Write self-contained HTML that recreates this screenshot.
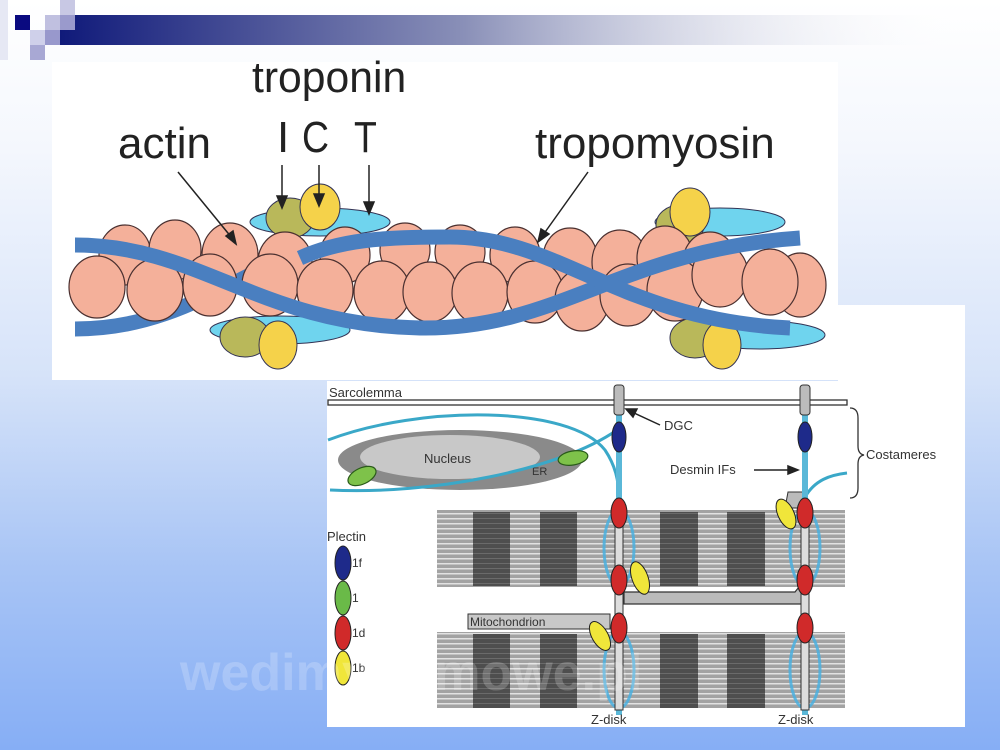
<!DOCTYPE html>
<html><head><meta charset="utf-8"><style>
html,body{margin:0;padding:0;}
body{width:1000px;height:750px;overflow:hidden;background:linear-gradient(to bottom,#ffffff 0%,#f4f7fd 20%,#d6e3f9 50%,#a9c5f5 75%,#86aef5 100%);position:relative;font-family:"Liberation Sans",sans-serif;}
</style></head><body>
<svg width="1000" height="750" viewBox="0 0 1000 750" style="position:absolute;left:0;top:0">
<defs>
<linearGradient id="bar" x1="0" x2="1"><stop offset="0" stop-color="#101a7a"/><stop offset="0.45" stop-color="#8a90b8"/><stop offset="1" stop-color="#ffffff" stop-opacity="0"/></linearGradient>
<pattern id="str" width="10" height="5" patternUnits="userSpaceOnUse"><rect width="10" height="5" fill="#a3a3a3"/><rect y="3" width="10" height="1.5" fill="#e2e2e2"/></pattern>
<pattern id="strd" width="10" height="5" patternUnits="userSpaceOnUse"><rect width="10" height="5" fill="#4e4e4e"/><rect y="3" width="10" height="1" fill="#6a6a6a"/></pattern>
</defs>
<rect x="60" y="15" width="900" height="30" fill="url(#bar)"/>
<rect x="15" y="15" width="15" height="15" fill="#0a0a80"/>
<rect x="60" y="0" width="15" height="15" fill="#c8c8e4"/>
<rect x="45" y="15" width="15" height="15" fill="#c0c0e0"/>
<rect x="60" y="15" width="15" height="15" fill="#9a9acc"/>
<rect x="30" y="30" width="15" height="15" fill="#cfd0ea"/>
<rect x="45" y="30" width="15" height="15" fill="#9898cc"/>
<rect x="30" y="45" width="15" height="15" fill="#a8a8d4"/>
<rect x="0" y="0" width="8" height="60" fill="#e6e8f4"/>

<rect x="52" y="62" width="786" height="318" fill="#fff"/>
<rect x="838" y="305" width="127" height="76" fill="#fff"/>
<g font-family="Liberation Sans, sans-serif" fill="#222" font-size="44">
<text transform="translate(252,92) scale(0.97,1)">troponin</text>
<text transform="translate(118,158) scale(1,1)">actin</text>
<text x="277" y="152">I</text>
<text transform="translate(302,152) scale(0.85,1)">C</text>
<text transform="translate(354,152) scale(0.85,1)">T</text>
<text transform="translate(535,158) scale(1,1)">tropomyosin</text>
</g>
<g stroke="#335" stroke-width="1">
<ellipse cx="320" cy="222" rx="70" ry="14" fill="#6fd4ee"/>
<ellipse cx="720" cy="222" rx="65" ry="14" fill="#6fd4ee"/>
<ellipse cx="280" cy="330" rx="70" ry="14" fill="#6fd4ee"/>
<ellipse cx="760" cy="335" rx="65" ry="14" fill="#6fd4ee"/>
<ellipse cx="290" cy="218" rx="24" ry="20" fill="#b9b85a"/>
<ellipse cx="320" cy="207" rx="20" ry="23" fill="#f5d24a"/>
<ellipse cx="680" cy="225" rx="24" ry="20" fill="#b9b85a"/>
<ellipse cx="690" cy="212" rx="20" ry="24" fill="#f5d24a"/>
<ellipse cx="245" cy="337" rx="25" ry="20" fill="#b9b85a"/>
<ellipse cx="278" cy="345" rx="19" ry="24" fill="#f5d24a"/>
<ellipse cx="695" cy="338" rx="25" ry="20" fill="#b9b85a"/>
<ellipse cx="722" cy="345" rx="19" ry="24" fill="#f5d24a"/>
</g>
<g fill="#f4b09a" stroke="#4a3030" stroke-width="1.2">
<ellipse cx="125" cy="255" rx="26" ry="30"/>
<ellipse cx="175" cy="250" rx="26" ry="30"/>
<ellipse cx="230" cy="255" rx="28" ry="32"/>
<ellipse cx="285" cy="262" rx="27" ry="30"/>
<ellipse cx="345" cy="255" rx="25" ry="28"/>
<ellipse cx="405" cy="250" rx="25" ry="27"/>
<ellipse cx="460" cy="252" rx="25" ry="27"/>
<ellipse cx="515" cy="255" rx="25" ry="28"/>
<ellipse cx="570" cy="258" rx="27" ry="30"/>
<ellipse cx="620" cy="262" rx="28" ry="32"/>
<ellipse cx="665" cy="258" rx="28" ry="32"/>
<ellipse cx="710" cy="262" rx="27" ry="30"/>
<ellipse cx="800" cy="285" rx="26" ry="32"/>
</g>
<path d="M75,329 C150,329 200,300 260,270" fill="none" stroke="#4a7fc0" stroke-width="15"/>
<g fill="#f4b09a" stroke="#4a3030" stroke-width="1.2">
<ellipse cx="97" cy="287" rx="28" ry="31"/>
<ellipse cx="155" cy="290" rx="28" ry="31"/>
<ellipse cx="210" cy="285" rx="27" ry="31"/>
<ellipse cx="270" cy="285" rx="28" ry="31"/>
<ellipse cx="325" cy="290" rx="28" ry="31"/>
<ellipse cx="382" cy="292" rx="28" ry="31"/>
<ellipse cx="430" cy="292" rx="27" ry="30"/>
<ellipse cx="480" cy="293" rx="28" ry="31"/>
<ellipse cx="535" cy="292" rx="28" ry="31"/>
<ellipse cx="582" cy="300" rx="27" ry="31"/>
<ellipse cx="628" cy="295" rx="28" ry="31"/>
<ellipse cx="675" cy="290" rx="28" ry="31"/>
<ellipse cx="720" cy="275" rx="28" ry="32"/>
<ellipse cx="770" cy="282" rx="28" ry="33"/>
</g>
<path d="M75,245 C200,245 260,325 420,328 C560,330 620,250 800,238" fill="none" stroke="#4a7fc0" stroke-width="15" stroke-linejoin="round"/>
<path d="M300,258 C340,240 380,237 450,237 C560,237 620,320 790,328" fill="none" stroke="#4a7fc0" stroke-width="15"/>
<g stroke="#222" stroke-width="1.5" fill="#222">
<line x1="178" y1="172" x2="232" y2="238"/><polygon points="236,244 226,236 233,231"/>
<line x1="282" y1="165" x2="282" y2="200"/><polygon points="282,208 277,196 287,196"/>
<line x1="319" y1="165" x2="319" y2="198"/><polygon points="319,206 314,194 324,194"/>
<line x1="369" y1="165" x2="369" y2="206"/><polygon points="369,214 364,202 374,202"/>
<line x1="588" y1="172" x2="543" y2="235"/><polygon points="538,242 541,229 549,234"/>
</g>

<rect x="327" y="381" width="638" height="346" fill="#fff"/>
<rect x="437" y="510" width="408" height="77" fill="url(#str)"/>
<rect x="437" y="632" width="408" height="76" fill="url(#str)"/>
<g fill="url(#strd)">
<rect x="473" y="512" width="37" height="74"/><rect x="540" y="512" width="37" height="74"/>
<rect x="660" y="512" width="38" height="74"/><rect x="727" y="512" width="38" height="74"/>
<rect x="473" y="634" width="37" height="74"/><rect x="540" y="634" width="37" height="74"/>
<rect x="660" y="634" width="38" height="74"/><rect x="727" y="634" width="38" height="74"/>
</g>
<rect x="328" y="400" width="519" height="5" fill="#fff" stroke="#333" stroke-width="1.3"/>
<text x="329" y="397" font-size="13" fill="#333">Sarcolemma</text>
<ellipse cx="460" cy="460" rx="122" ry="30" fill="#8a8a8a"/>
<ellipse cx="450" cy="457" rx="90" ry="22" fill="#c8c8c8"/>
<text x="424" y="463" font-size="13" fill="#333">Nucleus</text>
<text x="532" y="475" font-size="11" fill="#333">ER</text>
<g fill="none" stroke="#3aa8c8" stroke-width="3">
<path d="M328,440 C420,405 570,405 605,450 C615,465 619,480 619,500"/>
<path d="M330,490 C430,495 560,470 617,430"/>
<path d="M805,497 C815,480 830,475 847,473"/>
</g>
<ellipse cx="362" cy="476" rx="15" ry="8" fill="#7ec24a" stroke="#2a5a1a" stroke-width="1.2" transform="rotate(-25 362 476)"/>
<ellipse cx="573" cy="458" rx="15" ry="7" fill="#7ec24a" stroke="#2a5a1a" stroke-width="1.2" transform="rotate(-10 573 458)"/>
<g fill="none" stroke="#4ab0e0" stroke-width="3" opacity="0.85">
<ellipse cx="619" cy="548" rx="15" ry="38"/><ellipse cx="619" cy="670" rx="15" ry="38"/>
<ellipse cx="805" cy="548" rx="15" ry="38"/><ellipse cx="805" cy="670" rx="15" ry="38"/>
</g>
<path d="M624,592 L795,592 Q800,585 805,584 L808,604 L624,604 Z" fill="#bbb" stroke="#333" stroke-width="1.2"/>
<rect x="468" y="614" width="142" height="15" fill="#c8c8c8" stroke="#333" stroke-width="1"/>
<text x="470" y="626" font-size="12" fill="#333">Mitochondrion</text>
<path d="M788,492 L805,492 L805,508 L785,508 Z" fill="#bbb" stroke="#333" stroke-width="1"/>
<g>
<rect x="616" y="415" width="6" height="300" fill="#5ab8d8"/>
<rect x="802" y="415" width="6" height="300" fill="#5ab8d8"/>
<rect x="615" y="520" width="8" height="190" fill="#ddd" stroke="#333"/>
<rect x="801" y="520" width="8" height="190" fill="#ddd" stroke="#333"/>
<rect x="614" y="385" width="10" height="30" rx="3" fill="#bbb" stroke="#333"/>
<rect x="800" y="385" width="10" height="30" rx="3" fill="#bbb" stroke="#333"/>
</g>
<g stroke="#222" stroke-width="1">
<ellipse cx="619" cy="437" rx="7" ry="15" fill="#1e2a8a"/><ellipse cx="805" cy="437" rx="7" ry="15" fill="#1e2a8a"/>
<ellipse cx="619" cy="513" rx="8" ry="15" fill="#d02a2a"/><ellipse cx="805" cy="513" rx="8" ry="15" fill="#d02a2a"/>
<ellipse cx="619" cy="580" rx="8" ry="15" fill="#d02a2a"/><ellipse cx="805" cy="580" rx="8" ry="15" fill="#d02a2a"/>
<ellipse cx="619" cy="628" rx="8" ry="15" fill="#d02a2a"/><ellipse cx="805" cy="628" rx="8" ry="15" fill="#d02a2a"/>
<ellipse cx="640" cy="578" rx="8" ry="17" fill="#f0e63a" transform="rotate(-20 640 578)"/>
<ellipse cx="600" cy="636" rx="8" ry="16" fill="#f0e63a" transform="rotate(-30 600 636)"/>
<ellipse cx="786" cy="514" rx="8" ry="16" fill="#f0e63a" transform="rotate(-25 786 514)"/>
</g>
<g stroke="#222" stroke-width="1.5" fill="#222">
<line x1="660" y1="425" x2="632" y2="412"/><polygon points="626,409 637,409 633,417"/>
<line x1="754" y1="470" x2="790" y2="470"/><polygon points="798,470 788,466 788,474"/>
</g>
<text x="664" y="430" font-size="13" fill="#333">DGC</text>
<text x="670" y="474" font-size="13" fill="#333">Desmin IFs</text>
<text x="866" y="459" font-size="13" fill="#333">Costameres</text>
<path d="M850,408 Q858,408 858,418 L858,446 Q858,454 864,455 Q858,456 858,464 L858,488 Q858,498 850,498" fill="none" stroke="#333" stroke-width="1.3"/>
<text x="591" y="724" font-size="13" fill="#333">Z-disk</text>
<text x="778" y="724" font-size="13" fill="#333">Z-disk</text>
<text x="327" y="541" font-size="13" fill="#333">Plectin</text>
<g stroke="#222" stroke-width="1">
<ellipse cx="343" cy="563" rx="8" ry="17" fill="#1e2a8a"/>
<ellipse cx="343" cy="598" rx="8" ry="17" fill="#6aba48"/>
<ellipse cx="343" cy="633" rx="8" ry="17" fill="#d02a2a"/>
<ellipse cx="343" cy="668" rx="8" ry="17" fill="#f0e63a"/>
</g>
<g font-size="12" fill="#333"><text x="352" y="567">1f</text><text x="352" y="602">1</text><text x="352" y="637">1d</text><text x="352" y="672">1b</text></g>
<text x="180" y="690" font-size="52" font-weight="bold" fill="#fff" opacity="0.2">wedimydomowe.pl</text>
</svg>
</body></html>
